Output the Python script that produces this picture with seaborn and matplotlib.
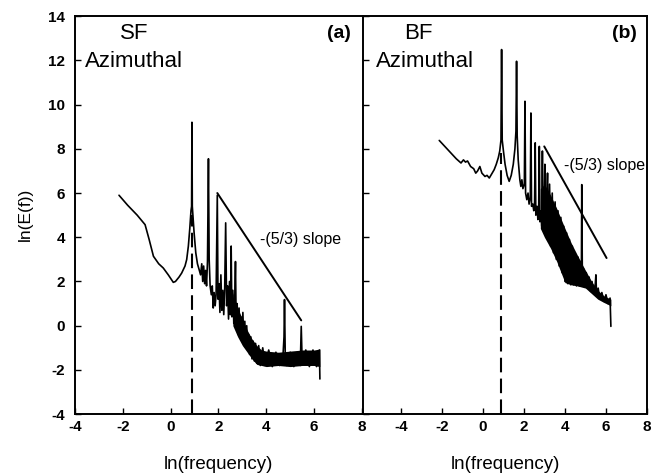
import matplotlib
matplotlib.use("Agg")
import matplotlib.pyplot as plt
import seaborn as sns
import pandas as pd

# ---------------- data ----------------
# Panel (a) SF azimuthal spectrum
sf_x = [-2.16, -1.8, -1.4, -1.07, -0.9, -0.72, -0.5, -0.31, -0.1, 0.11, 0.2, 0.35, 0.46, 0.6, 0.67, 0.74,
        0.8, 0.85, 0.875, 0.89, 0.905, 0.93, 0.98, 1.05, 1.12, 1.2, 1.25, 1.3, 1.34, 1.38, 1.42, 1.46, 1.5,
        1.54, 1.58, 1.61, 1.65, 1.7, 1.74, 1.78, 1.82, 1.86, 1.9, 1.95, 1.98, 2.02, 2.06, 2.1, 2.14, 2.18,
        2.22, 2.26, 2.3, 2.34, 2.38, 2.42, 2.46, 2.5, 2.53, 2.56, 2.6, 2.64, 2.68, 2.71, 2.74, 2.78, 2.82,
        2.86, 2.9, 2.94, 2.98, 3.02, 3.06, 3.1, 3.14, 3.18, 3.22, 3.26, 3.3, 3.35, 3.4, 3.45, 3.5, 3.55, 3.6,
        3.68, 3.75, 3.85, 3.95, 4.1, 4.25, 4.4, 4.55, 4.7, 4.74, 4.76, 4.79, 4.85, 5.0, 5.15, 5.3, 5.42,
        5.46, 5.5, 5.65, 5.8, 5.95, 6.1, 6.22, 6.24]
sf_y = [5.9, 5.45, 5.0, 4.57, 3.9, 3.14, 2.8, 2.61, 2.3, 1.96, 2.0, 2.2, 2.38, 2.7, 2.99, 3.6,
        4.4, 5.2, 5.4, 9.2, 5.4, 5.0, 4.2, 3.3, 2.8, 2.5, 2.3, 2.8, 2.0, 2.7, 1.9, 2.5, 1.8,
        2.9, 7.55, 3.0, 1.8, 1.4, 1.8, 0.8, 1.5, 0.9, 1.4, 5.9, 1.2, 1.9, 0.6, 2.3, 0.7, 1.6,
        0.5, 1.7, 4.65, 0.9, 1.8, 0.3, 2.0, 0.5, 3.6, 0.4, 1.6, 0.1, 1.2, 2.9, 0.0, 1.0, -0.4,
        0.8, -0.5, 0.4, -0.7, 0.6, -0.8, 0.2, -1.0, 0.0, -1.1, -0.4, -1.3, -0.5, -1.5, -0.7, -1.6, -0.8, -1.7,
        -0.9, -1.8, -1.0, -1.8, -1.1, -1.85, -1.2, -1.8, -1.3, -0.5, 1.18, -1.2, -1.8, -1.2, -1.85, -1.2, -1.8,
        -0.03, -1.7, -1.1, -1.85, -1.1, -1.85, -1.1, -2.41]
# noise band of panel (a)
sf_band_x = [2.6, 2.8, 3.0, 3.2, 3.4, 3.6, 3.8, 4.0, 4.5, 5.0, 5.5, 6.0, 6.24]
sf_band_lo = [0.0, -0.5, -0.9, -1.2, -1.5, -1.75, -1.8, -1.85, -1.8, -1.85, -1.8, -1.8, -1.85]
sf_band_hi = [1.5, 0.8, 0.3, -0.2, -0.6, -0.9, -1.1, -1.15, -1.2, -1.15, -1.1, -1.1, -1.05]
# -(5/3) slope guide, panel (a)
sf_slope_x = [1.95, 5.46]
sf_slope_y = [6.0, 0.24]

# Panel (b) BF azimuthal spectrum
bf_x = [-2.13, -1.85, -1.6, -1.3, -1.07, -0.95, -0.85, -0.75, -0.6, -0.45, -0.35, -0.26, -0.15, -0.05, 0.1,
        0.2, 0.31, 0.45, 0.55, 0.65, 0.75, 0.82, 0.88, 0.91, 0.94, 1.0, 1.08, 1.18, 1.28, 1.38, 1.48, 1.56,
        1.61, 1.64, 1.67, 1.72, 1.8, 1.85, 1.9, 1.95, 2.02, 2.05, 2.08, 2.14, 2.2, 2.25, 2.31, 2.34, 2.37,
        2.43, 2.48, 2.52, 2.55, 2.58, 2.64, 2.68, 2.72, 2.75, 2.78, 2.83, 2.87, 2.9, 2.93, 2.98, 3.02, 3.05,
        3.1, 3.15, 3.18, 3.25, 3.3, 3.38, 3.44, 3.52, 3.58, 3.66, 3.72, 3.8, 3.86, 3.94, 4.0, 4.08, 4.14,
        4.22, 4.28, 4.36, 4.42, 4.5, 4.56, 4.64, 4.7, 4.76, 4.8, 4.82, 4.85, 4.9, 4.96, 5.04, 5.1, 5.18,
        5.25, 5.32, 5.4, 5.48, 5.51, 5.54, 5.62, 5.7, 5.8, 5.9, 6.0, 6.1, 6.2, 6.24]
bf_y = [8.38, 8.1, 7.85, 7.55, 7.36, 7.5, 7.4, 7.45, 7.2, 7.1, 6.9, 7.0, 7.2, 6.9, 6.75,
        6.8, 6.68, 6.9, 7.06, 7.3, 7.6, 7.9, 8.4, 12.49, 8.4, 7.9, 7.3, 6.8, 6.53, 6.8, 7.3, 8.0,
        8.8, 11.96, 8.6, 7.5, 6.6, 6.3, 6.6, 6.2, 6.4, 10.15, 6.0, 5.7, 6.0, 5.5, 5.8, 9.62, 5.4,
        5.5, 5.2, 5.6, 8.27, 5.0, 5.4, 4.8, 5.4, 8.11, 4.7, 5.2, 4.5, 7.9, 4.4, 5.0, 7.3, 4.2,
        5.0, 6.9, 3.9, 6.4, 3.6, 6.0, 3.3, 5.6, 3.0, 5.2, 2.7, 4.9, 2.4, 4.5, 2.0, 4.2, 1.9,
        3.9, 1.85, 3.6, 1.85, 3.3, 1.8, 3.1, 1.8, 2.9, 2.0, 6.38, 2.0, 2.6, 1.75, 2.4, 1.7, 2.2,
        1.55, 2.0, 1.45, 1.9, 2.3, 1.4, 1.7, 1.2, 1.5, 1.1, 1.4, 1.0, 1.25, -0.03]
# noise band of panel (b)
bf_band_x = [2.8, 3.0, 3.3, 3.6, 4.0, 4.3, 4.6, 4.8, 5.0, 5.3, 5.6, 5.9, 6.24]
bf_band_lo = [4.4, 4.0, 3.5, 2.9, 1.95, 1.85, 1.8, 1.75, 1.7, 1.45, 1.2, 1.05, 0.9]
bf_band_hi = [6.2, 6.4, 5.9, 5.3, 4.4, 3.75, 3.2, 2.85, 2.5, 2.0, 1.6, 1.35, 1.2]
# -(5/3) slope guide, panel (b)
bf_slope_x = [2.99, 6.03]
bf_slope_y = [8.11, 3.06]

# dashed marker of the fundamental frequency
fund_x = 0.9
sf_dash_top = 5.0
bf_dash_top = 7.8

ticks_x = [-4, -2, 0, 2, 4, 6, 8]
ticks_y = [-4, -2, 0, 2, 4, 6, 8, 10, 12, 14]

# ---------------- style ----------------
sns.set_style("ticks")
plt.rcParams['font.family'] = ['Liberation Sans', 'DejaVu Sans']
plt.rcParams.update({
    "xtick.direction": "in", "ytick.direction": "in",
    "xtick.major.size": 4, "ytick.major.size": 4,
    "xtick.major.width": 1.0, "ytick.major.width": 1.0,
    "axes.linewidth": 1.4, "axes.edgecolor": "black",
    "xtick.color": "black", "ytick.color": "black",
    "text.color": "black", "axes.labelcolor": "black",
})

fig = plt.figure(figsize=(6.62, 4.76), dpi=100)
axL = fig.add_axes([0.1133, 0.130, 0.4335, 0.836])
axR = fig.add_axes([0.5483, 0.130, 0.4290, 0.836])


def draw(ax, x, y, bx, blo, bhi, sx, sy, dash_top):
    df = pd.DataFrame({"x": x, "y": y})
    ax.fill_between(bx, blo, bhi, color="black", lw=0)
    sns.lineplot(data=df, x="x", y="y", ax=ax, color="black", lw=1.2,
                 sort=False, estimator=None)
    sns.lineplot(x=sx, y=sy, ax=ax, color="black", lw=1.4, sort=False, estimator=None)
    ax.plot([fund_x, fund_x], [-4, dash_top], color="black", lw=1.5,
            dashes=(7, 3))


draw(axL, sf_x, sf_y, sf_band_x, sf_band_lo, sf_band_hi, sf_slope_x, sf_slope_y, sf_dash_top)
draw(axR, bf_x, bf_y, bf_band_x, bf_band_lo, bf_band_hi, bf_slope_x, bf_slope_y, bf_dash_top)

axL.set_xlim(-4, 8)
axR.set_xlim(-5.85, 8)
for ax in (axL, axR):
    ax.set_ylim(-4, 14)
    ax.set_xticks(ticks_x)
    ax.set_yticks(ticks_y)
    ax.set_xticklabels([str(t) for t in ticks_x], fontsize=11, fontweight="bold")
    ax.tick_params(axis="x", pad=4)
    ax.set_xlabel("ln(frequency)", fontsize=13.5)
    ax.xaxis.set_label_coords(0.5, -0.104)
    ax.set_ylabel("")
    for s in ax.spines.values():
        s.set_visible(True)
        s.set_linewidth(1.4)

axL.set_yticklabels([str(t) for t in ticks_y], fontsize=11, fontweight="bold")
axL.tick_params(axis="y", pad=7)
axL.set_ylabel("ln(E(f))", fontsize=12.5)
axL.yaxis.set_label_coords(-0.146, 0.503)
axL.spines["right"].set_visible(False)
axR.set_yticklabels([])

# annotations
axL.text(-2.1, 13.2, "SF", fontsize=16, va="center", ha="left")
axL.text(-3.58, 11.95, "Azimuthal", fontsize=16, va="center", ha="left")
axL.text(7.55, 13.2, "(a)", fontsize=14, fontweight="bold", va="center", ha="right")
axL.text(3.74, 3.9, "-(5/3) slope", fontsize=11.5, va="center", ha="left")

axR.text(-3.85, 13.2, "BF", fontsize=16, va="center", ha="left")
axR.text(-5.2, 11.95, "Azimuthal", fontsize=16, va="center", ha="left")
axR.text(7.5, 13.2, "(b)", fontsize=14, fontweight="bold", va="center", ha="right")
axR.text(3.95, 7.24, "-(5/3) slope", fontsize=11.5, va="center", ha="left")

fig.savefig("out.png", dpi=100)
